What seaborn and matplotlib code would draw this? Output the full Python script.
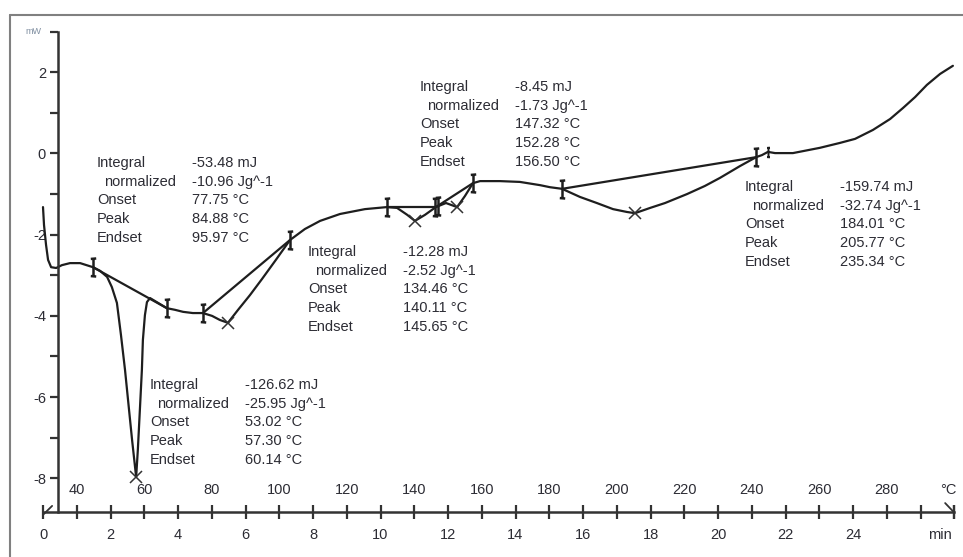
import matplotlib
matplotlib.use("Agg")
import matplotlib.pyplot as plt
from matplotlib.path import Path
from matplotlib.lines import Line2D
import seaborn as sns
import pandas as pd

# DSC trace: time (min) and heat flow (mW)
curve_t = [0.00, 0.03, 0.09, 0.15, 0.24, 0.39, 0.56, 0.80, 1.10, 1.48,
           1.69, 1.90, 2.04, 2.19, 2.31, 2.43, 2.55, 2.64, 2.76, 2.81, 2.87, 2.93, 2.96, 3.02, 3.08, 3.17,
           3.67, 3.91, 4.15, 4.44, 4.74,
           5.01, 5.24, 5.48, 5.78, 6.13, 6.49, 6.90, 7.32,
           7.76, 8.21, 8.80, 9.54, 10.19,
           10.49, 10.79, 11.02, 11.32, 11.64,
           11.94, 12.27, 12.50, 12.74,
           12.95, 13.54, 14.13, 14.73, 15.02, 15.38,
           15.91, 16.41, 16.89, 17.30, 17.54, 17.99, 18.43, 19.08, 19.61, 20.06, 20.65, 21.13,
           21.30, 21.48, 21.69, 22.22, 23.02, 23.61, 24.06, 24.59, 25.10, 25.48, 25.84, 26.19, 26.58, 26.96]
curve_mw = [-1.32, -1.76, -2.25, -2.62, -2.80, -2.82, -2.75, -2.70, -2.70, -2.80,
            -2.89, -3.04, -3.29, -3.68, -4.47, -5.33, -6.32, -7.06, -7.97, -7.30, -6.32, -5.33, -4.59, -3.98, -3.66, -3.56,
            -3.81, -3.85, -3.90, -3.93, -3.93,
            -4.00, -4.10, -4.17, -3.85, -3.49, -3.09, -2.62, -2.13,
            -1.86, -1.66, -1.49, -1.37, -1.32,
            -1.34, -1.51, -1.66, -1.51, -1.32,
            -1.22, -1.32, -1.05, -0.73,
            -0.68, -0.68, -0.70, -0.78, -0.83, -0.87,
            -1.07, -1.22, -1.37, -1.44, -1.47, -1.34, -1.22, -1.00, -0.80, -0.60, -0.31, -0.09,
            -0.04, 0.04, 0.01, 0.01, 0.14, 0.26, 0.36, 0.58, 0.85, 1.12, 1.39, 1.69, 1.96, 2.16]

# integration baselines (start, end)
base_t = [(1.48, 3.67), (4.74, 7.32), (10.19, 11.64), (11.64, 12.74), (15.38, 21.13)]
base_mw = [(-2.80, -3.81), (-3.93, -2.13), (-1.32, -1.32), (-1.32, -0.73), (-0.87, -0.09)]

limit_t = [1.48, 3.67, 4.74, 7.32, 10.19, 11.60, 11.70, 12.74, 15.38, 21.13]
limit_mw = [-2.80, -3.81, -3.93, -2.13, -1.32, -1.32, -1.30, -0.73, -0.87, -0.09]
peak_t = [2.76, 5.48, 11.02, 12.27, 17.54]
peak_mw = [-7.97, -4.17, -1.66, -1.32, -1.47]

# evaluation results per peak
integral_mj = [-126.62, -53.48, -12.28, -8.45, -159.74]
normalized = [-25.95, -10.96, -2.52, -1.73, -32.74]
onset_c = [53.02, 77.75, 134.46, 147.32, 184.01]
peakval_c = [57.30, 84.88, 140.11, 152.28, 205.77]
endset_c = [60.14, 95.97, 145.65, 156.50, 235.34]

y_ticks = list(range(-8, 4))
min_ticks = list(range(0, 28))
temp_ticks = list(range(40, 300, 20))

W, H = 963, 557
sns.set_style("white")
plt.rcParams['font.family'] = ['Liberation Sans', 'DejaVu Sans']
plt.rcParams['axes.unicode_minus'] = False

fig = plt.figure(figsize=(W / 100, H / 100), dpi=100)
ax = fig.add_axes([0, 0, 1, 1])
ax.patch.set_alpha(0)

ink = '#1e1e1e'
txt = '#2c2c34'
x_axis_y = -8.83

df = pd.DataFrame({'t': curve_t, 'mw': curve_mw})
sns.lineplot(data=df, x='t', y='mw', sort=False, estimator=None, ax=ax, color=ink, lw=1.6)
for bt, bm in zip(base_t, base_mw):
    sns.lineplot(x=list(bt), y=list(bm), sort=False, estimator=None, ax=ax, color=ink, lw=1.6)

lim_marker = Path([(0, -1), (0, 1), (-0.3, 0.95), (0.3, 1.0), (-0.3, -0.95), (0.3, -1.0)],
                  [Path.MOVETO, Path.LINETO, Path.MOVETO, Path.LINETO, Path.MOVETO, Path.LINETO])
ax.plot(limit_t, limit_mw, ls='none', marker=lim_marker, ms=13, mew=1.8, mec=ink)
ax.plot([21.48], [0.04], ls='none', marker=lim_marker, ms=7, mew=1.4, mec=ink)
ax.plot(peak_t, peak_mw, ls='none', marker='x', ms=8, mew=1.1, mec='#333333')

ax.set_xlim(-43 / 33.75, (W - 43) / 33.75)
ax.set_ylim((153.5 - H) / 40.6, 153.5 / 40.6)
ax.set_xlabel('')
ax.set_ylabel('')

# axes
for s in ['top', 'right']:
    ax.spines[s].set_visible(False)
ax.spines['left'].set_position(('data', 0.44))
ax.spines['left'].set_bounds(x_axis_y, 3.0)
ax.spines['bottom'].set_position(('data', x_axis_y))
ax.spines['bottom'].set_bounds(0, 27.0)
for s in ['left', 'bottom']:
    ax.spines[s].set_color('#333333')
    ax.spines[s].set_linewidth(1.8)

ax.set_yticks(y_ticks)
ax.set_yticklabels([str(v) if v % 2 == 0 and v < 3 else '' for v in y_ticks])
ax.set_xticks(min_ticks + [27])
ax.set_xticklabels([str(v) if v % 2 == 0 and v <= 24 else '' for v in min_ticks] + [''])
ax.tick_params(axis='y', direction='out', length=6, width=1.6, pad=2.5,
               labelsize=10.5, colors='#333333', left=True)
ax.tick_params(axis='x', direction='inout', length=10, width=1.6, pad=6.5,
               labelsize=10.5, colors='#333333', bottom=True)
for lab in ax.get_xticklabels() + ax.get_yticklabels():
    lab.set_color(txt)

for T in temp_ticks:
    ax.annotate(str(T), xy=((T - 30) / 10, x_axis_y), xytext=(0, 16), textcoords='offset points',
                ha='center', va='center', fontsize=10.5, color=txt)
ax.annotate('°C', xy=(26.81, x_axis_y), xytext=(0, 16), textcoords='offset points',
            ha='center', va='center', fontsize=10.5, color=txt)
ax.annotate('min', xy=(26.58, x_axis_y), xytext=(0, -16.5), textcoords='offset points',
            ha='center', va='center', fontsize=10.5, color=txt)
ax.plot([0, 0.27], [-8.90, -8.68], color='#333333', lw=1.3)
ax.plot([26.73, 26.96], [-8.61, -8.81], color='#333333', lw=1.3)

fig.text(33 / W, 1 - 32 / H, 'mW', fontsize=6.5, color='#7f8ea0', ha='center', va='center')

# result boxes, pixel anchors of the label column
box_xy = [(150, 385), (97, 163), (308, 252), (420, 87), (745, 187)]
row_gap = 18.7
for i, (bx, by) in enumerate(box_xy):
    rows = [("Integral", f"{integral_mj[i]:.2f} mJ", 0),
            ("normalized", f"{normalized[i]:.2f} Jg^-1", 7),
            ("Onset", f"{onset_c[i]:.2f} °C", 0),
            ("Peak", f"{peakval_c[i]:.2f} °C", 0),
            ("Endset", f"{endset_c[i]:.2f} °C", 0)]
    for k, (lab, val, indent) in enumerate(rows):
        yy = 1 - (by + k * row_gap) / H
        fig.text((bx + indent) / W, yy, lab, fontsize=10.5, color=txt, va='center', ha='left')
        fig.text((bx + 95) / W, yy, val, fontsize=10.5, color=txt, va='center', ha='left')

# outer frame of the screenshot
fig.add_artist(Line2D([10 / W, 10 / W], [0, 1 - 15 / H], transform=fig.transFigure, color='#808080', lw=1.5))
fig.add_artist(Line2D([10 / W, 1], [1 - 15 / H, 1 - 15 / H], transform=fig.transFigure, color='#808080', lw=1.5))

fig.savefig('out.png', dpi=100, facecolor='white')
